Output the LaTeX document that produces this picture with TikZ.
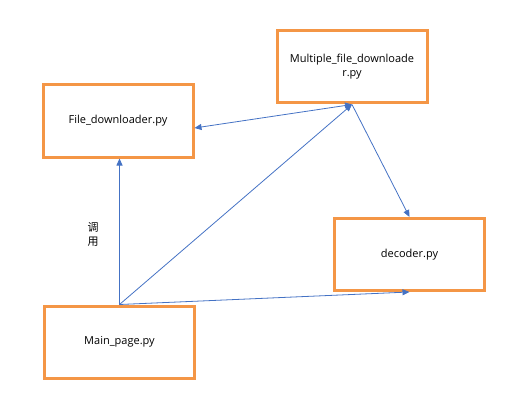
\documentclass[tikz,border=0pt]{standalone}
\usepackage{fontspec}
\setmainfont{Open Sans}
\newfontfamily\cjk{Noto Sans CJK SC}
\usetikzlibrary{arrows.meta}
\definecolor{boxorange}{RGB}{244,150,70}
\definecolor{linkblue}{RGB}{68,114,196}
\begin{document}
\begin{tikzpicture}[x=1pt,y=-1pt,
  module/.style={draw=boxorange,line width=3pt,fill=white,minimum width=150pt,minimum height=72pt,inner sep=2pt,font=\fontsize{11}{14}\selectfont,align=center},
  link/.style={draw=linkblue,line width=0.8pt,-{Triangle[length=7pt,width=6pt]}},
  biglink/.style={draw=linkblue,line width=0.8pt,{Triangle[length=7pt,width=6pt]}-{Triangle[length=7pt,width=6pt]}}]
\useasboundingbox (0,0) rectangle (508,401);
\node[module] (file) at (118,121) {File\_downloader.py};
\node[module] (multi) at (352,67) {Multiple\_file\_downloade\\r.py};
\node[module] (dec) at (409.5,254.5) {decoder.py};
\node[module] (main) at (119.5,342) {Main\_page.py};
\draw[link] (main.north) -- (main.north |- file.south);
\draw[link] (main.north) -- (multi.south);
\draw[link] (main.north) -- (dec.south);
\draw[link] (multi.south) -- (dec.north);
\draw[biglink] ([yshift=-7pt]file.east) -- (multi.south);
\node[font=\cjk\fontsize{11}{14}\selectfont,align=center] (call) at (93,234) {调\\用};
\end{tikzpicture}
\end{document}
